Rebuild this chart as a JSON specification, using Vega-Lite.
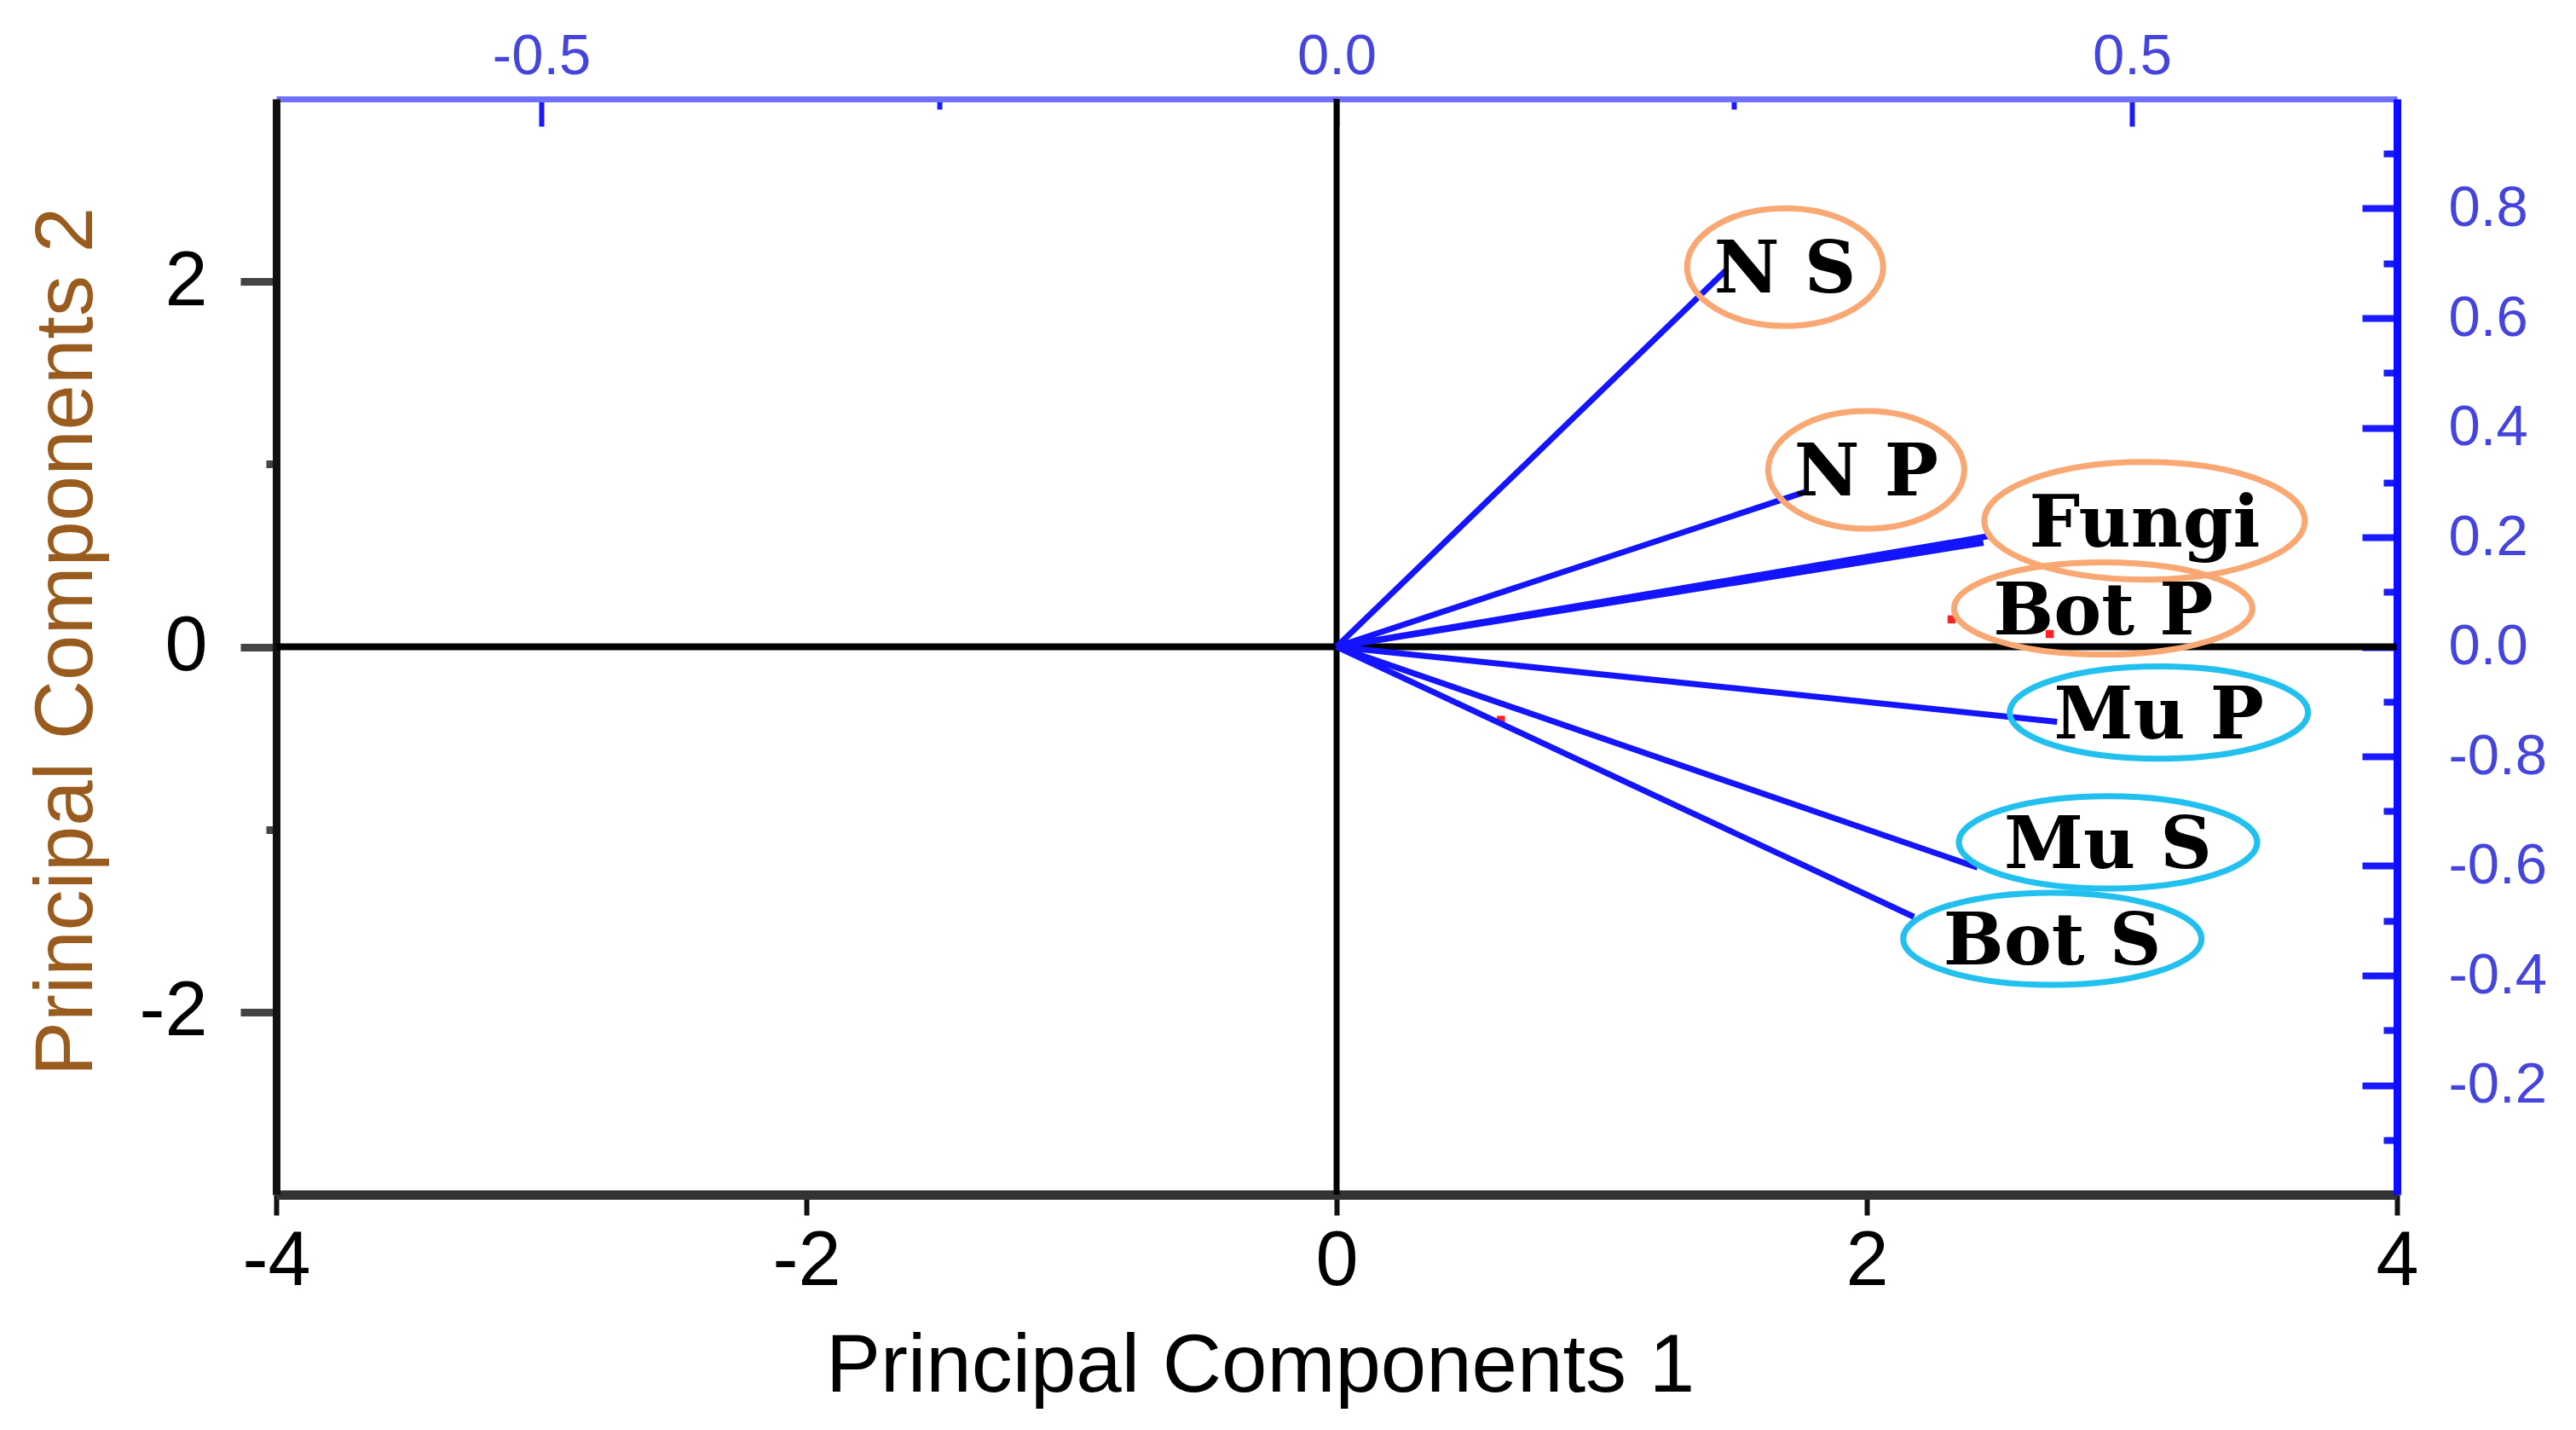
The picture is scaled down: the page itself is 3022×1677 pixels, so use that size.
{
  "$schema": "https://vega.github.io/schema/vega-lite/v6.json",
  "width": 2488,
  "height": 1285,
  "autosize": {"type": "none"},
  "padding": {"left": 324, "top": 116, "right": 210, "bottom": 276},
  "background": "white",
  "config": {"view": {"stroke": null}, "axis": {"grid": false}},
  "datasets": {
    "zero": [{"v": 0}],
    "scores": [
      {"pc1": 2.32, "pc2": 0.15},
      {"pc1": 2.69, "pc2": 0.07},
      {"pc1": 0.62, "pc2": -0.40}
    ],
    "loadings": [
      {"var": "N S", "lx": 0.2455, "ly": 0.689, "cx": 0.282, "cy": 0.693, "grp": "A"},
      {"var": "N P", "lx": 0.295, "ly": 0.283, "cx": 0.333, "cy": 0.323, "grp": "A"},
      {"var": "Fungi", "lx": 0.412, "ly": 0.203, "cx": 0.508, "cy": 0.230, "grp": "A"},
      {"var": "Bot P", "lx": 0.4067, "ly": 0.190, "cx": 0.482, "cy": 0.070, "grp": "A"},
      {"var": "Mu P", "lx": 0.453, "ly": -0.137, "cx": 0.517, "cy": -0.120, "grp": "B"},
      {"var": "Mu S", "lx": 0.403, "ly": -0.403, "cx": 0.485, "cy": -0.357, "grp": "B"},
      {"var": "Bot S", "lx": 0.363, "ly": -0.493, "cx": 0.450, "cy": -0.533, "grp": "B"}
    ]
  },
  "layer": [
    {
      "layer": [
        {
          "data": {"name": "zero"},
          "mark": {"type": "rule", "color": "#000000", "strokeWidth": 7},
          "encoding": {
            "x": {"field": "v", "type": "quantitative", "scale": {"domain": [-4, 4], "nice": false, "zero": false}}
          }
        },
        {
          "data": {"name": "zero"},
          "mark": {"type": "rule", "color": "#000000", "strokeWidth": 8},
          "encoding": {
            "y": {"field": "v", "type": "quantitative", "scale": {"domain": [-3, 3], "nice": false, "zero": false}}
          }
        },
        {
          "data": {"name": "scores"},
          "mark": {"type": "point", "shape": "square", "filled": true, "size": 90, "color": "#ff2020", "opacity": 1},
          "encoding": {
            "x": {
              "field": "pc1", "type": "quantitative",
              "scale": {"domain": [-4, 4], "nice": false, "zero": false},
              "axis": {
                "orient": "bottom",
                "title": "Principal Components 1",
                "values": [-4, -2, 0, 2, 4],
                "domainColor": "#333333", "domainWidth": 11,
                "tickColor": "#111111", "tickWidth": 6, "tickSize": 24,
                "labelPadding": 10, "labelFont": "Liberation Sans", "labelFontSize": 90, "labelColor": "#000000",
                "labelExpr": "(datum.value < 0 ? '-' : '') + abs(datum.value)",
                "labelFlush": false, "labelOverlap": false,
                "titleFont": "Liberation Sans", "titleFontSize": 96, "titleFontWeight": "normal", "titleColor": "#000000",
                "titleX": 1154, "titleY": 230, "titleBaseline": "alphabetic", "titleAlign": "center"
              }
            },
            "y": {
              "field": "pc2", "type": "quantitative",
              "scale": {"domain": [-3, 3], "nice": false, "zero": false},
              "axis": {
                "orient": "left",
                "title": "Principal Components 2",
                "values": [-2, -1, 0, 1, 2],
                "domainColor": "#111111", "domainWidth": 9,
                "tickColor": "#444444", "tickWidth": 9,
                "tickSize": {"condition": {"test": "datum.value % 2 != 0", "value": 12}, "value": 42},
                "labelPadding": 39, "labelFont": "Liberation Sans", "labelFontSize": 90, "labelColor": "#000000",
                "labelExpr": "datum.value % 2 != 0 ? '' : (datum.value < 0 ? '-' : '') + abs(datum.value)",
                "labelOverlap": false,
                "titleFont": "Liberation Sans", "titleFontSize": 96, "titleFontWeight": "normal", "titleColor": "#9a5b1e",
                "titleX": -217, "titleY": 636, "titleAngle": 270, "titleBaseline": "alphabetic", "titleAlign": "center"
              }
            }
          }
        }
      ]
    },
    {
      "data": {"name": "loadings"},
      "layer": [
        {
          "mark": {"type": "rule", "color": "#1414ff", "strokeWidth": 7},
          "encoding": {
            "x": {
              "field": "lx", "type": "quantitative",
              "scale": {"domain": [-0.6667, 0.6667], "nice": false, "zero": false},
              "axis": {
                "orient": "top",
                "title": null,
                "values": [-0.5, -0.25, 0, 0.25, 0.5],
                "domainColor": "#7070ff", "domainWidth": 7,
                "tickColor": "#1a1aff", "tickWidth": 6,
                "tickSize": {"condition": {"test": "abs(datum.value) == 0.25", "value": -12}, "value": -32},
                "labelPadding": 48, "labelFont": "Liberation Sans", "labelFontSize": 67, "labelColor": "#4545dd",
                "labelExpr": "abs(datum.value) == 0.25 ? '' : (datum.value < 0 ? '-' : '') + format(abs(datum.value), '.1f')",
                "labelFlush": false, "labelOverlap": false
              }
            },
            "y": {
              "field": "ly", "type": "quantitative",
              "scale": {"domain": [-1, 1], "nice": false, "zero": false},
              "axis": {
                "orient": "right",
                "title": null,
                "values": [-0.9, -0.8, -0.7, -0.6, -0.5, -0.4, -0.3, -0.2, -0.1, 0, 0.1, 0.2, 0.3, 0.4, 0.5, 0.6, 0.7, 0.8, 0.9],
                "domainColor": "#0c0cff", "domainWidth": 9,
                "tickColor": "#1a1aff", "tickWidth": 8,
                "tickSize": {"condition": {"test": "round(datum.value*10) % 2 != 0", "value": -16}, "value": -41},
                "labelPadding": 101, "labelFont": "Liberation Sans", "labelFontSize": 67, "labelColor": "#4545dd",
                "labelExpr": "round(datum.value*10) % 2 != 0 ? '' : (datum.value < -0.01 ? '-' + format(1 + datum.value, '.1f') : format(abs(datum.value), '.1f'))",
                "labelOverlap": false
              }
            },
            "x2": {"datum": 0},
            "y2": {"datum": 0}
          }
        },
        {
          "transform": [{"filter": "datum.var == 'N S' || datum.var == 'N P'"}],
          "mark": {"type": "point", "filled": false, "opacity": 1, "strokeWidth": 7, "size": 52900,
                   "shape": "M-1,0C-1,-0.3314,-0.5523,-0.6,0,-0.6C0.5523,-0.6,1,-0.3314,1,0C1,0.3314,0.5523,0.6,0,0.6C-0.5523,0.6,-1,0.3314,-1,0Z"},
          "encoding": {
            "x": {"field": "cx", "type": "quantitative", "scale": {"domain": [-0.6667, 0.6667], "nice": false, "zero": false}},
            "y": {"field": "cy", "type": "quantitative", "scale": {"domain": [-1, 1], "nice": false, "zero": false}},
            "color": {"field": "grp", "type": "nominal", "scale": {"domain": ["A", "B"], "range": ["#f9a874", "#22c0ee"]}, "legend": null}
          }
        },
        {
          "transform": [{"filter": "datum.var == 'Fungi'"}],
          "mark": {"type": "point", "filled": false, "opacity": 1, "strokeWidth": 7, "size": 141376,
                   "shape": "M-1,0C-1,-0.2027,-0.5523,-0.367,0,-0.367C0.5523,-0.367,1,-0.2027,1,0C1,0.2027,0.5523,0.367,0,0.367C-0.5523,0.367,-1,0.2027,-1,0Z"},
          "encoding": {
            "x": {"field": "cx", "type": "quantitative", "scale": {"domain": [-0.6667, 0.6667], "nice": false, "zero": false}},
            "y": {"field": "cy", "type": "quantitative", "scale": {"domain": [-1, 1], "nice": false, "zero": false}},
            "color": {"field": "grp", "type": "nominal", "scale": {"domain": ["A", "B"], "range": ["#f9a874", "#22c0ee"]}, "legend": null}
          }
        },
        {
          "transform": [{"filter": "datum.var == 'Bot P' || datum.var == 'Mu P' || datum.var == 'Mu S' || datum.var == 'Bot S'"}],
          "mark": {"type": "point", "filled": false, "opacity": 1, "strokeWidth": 7, "size": 122500,
                   "shape": "M-1,0C-1,-0.1707,-0.5523,-0.309,0,-0.309C0.5523,-0.309,1,-0.1707,1,0C1,0.1707,0.5523,0.309,0,0.309C-0.5523,0.309,-1,0.1707,-1,0Z"},
          "encoding": {
            "x": {"field": "cx", "type": "quantitative", "scale": {"domain": [-0.6667, 0.6667], "nice": false, "zero": false}},
            "y": {"field": "cy", "type": "quantitative", "scale": {"domain": [-1, 1], "nice": false, "zero": false}},
            "color": {"field": "grp", "type": "nominal", "scale": {"domain": ["A", "B"], "range": ["#f9a874", "#22c0ee"]}, "legend": null}
          }
        },
        {
          "mark": {"type": "text", "font": "DejaVu Serif", "fontWeight": "bold", "fontSize": 84, "color": "#000000",
                   "align": "center", "baseline": "alphabetic", "dy": 30},
          "encoding": {
            "x": {"field": "cx", "type": "quantitative", "scale": {"domain": [-0.6667, 0.6667], "nice": false, "zero": false}},
            "y": {"field": "cy", "type": "quantitative", "scale": {"domain": [-1, 1], "nice": false, "zero": false}},
            "text": {"field": "var"}
          }
        }
      ]
    }
  ],
  "resolve": {"scale": {"x": "independent", "y": "independent"}}
}
